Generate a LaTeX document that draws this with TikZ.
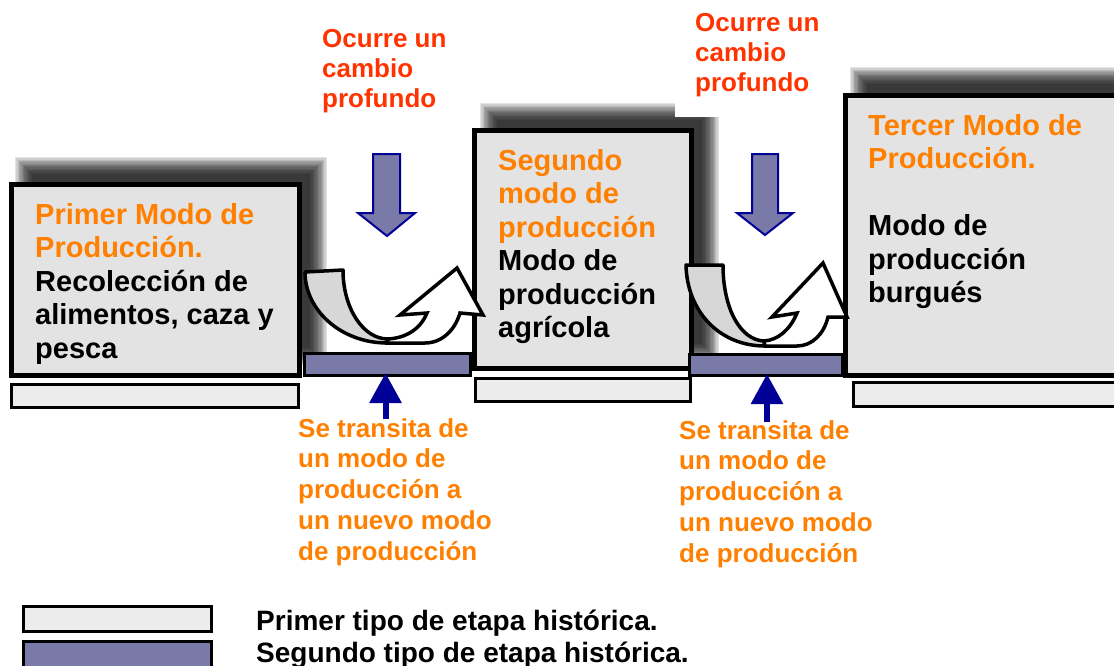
\documentclass[tikz,border=0pt]{standalone}
\usepackage{fontspec}
\setmainfont{Liberation Sans}
\usetikzlibrary{arrows.meta}
\definecolor{boxgray}{RGB}{227,227,227}
\definecolor{bargray}{RGB}{236,236,236}
\definecolor{purp}{RGB}{122,122,168}
\definecolor{navyb}{RGB}{0,0,150}
\definecolor{orng}{RGB}{255,128,0}
\definecolor{redo}{RGB}{255,51,0}
\definecolor{ribbon}{RGB}{215,215,215}
\newcommand{\myblurshadow}[4]{%
  \foreach \i in {0,...,13}{%
    \fill[black,opacity=0.1] ({#1-9+1.3*\i},{#2-9+1.3*\i}) rectangle ({#3+9-1.3*\i},{#4+9-1.3*\i});%
  }}
\tikzset{
  modebox/.style={draw=black, line width=5pt, fill=boxgray, inner sep=0pt, outer sep=0pt, anchor=north west},
  stagebar/.style={draw=black, line width=3pt, fill=bargray, inner sep=0pt, outer sep=0pt, anchor=north west},
  transbar/.style={draw=black, line width=3pt, fill=purp, inner sep=0pt, outer sep=0pt, anchor=north west},
  boxtxt/.style={inner sep=0pt, anchor=north west, align=left, font=\fontsize{29}{33.5}\selectfont\bfseries},
  redtxt/.style={inner sep=0pt, anchor=north west, align=left, text=redo, font=\fontsize{26}{30}\selectfont\bfseries},
  orangetxt/.style={inner sep=0pt, anchor=north west, align=left, text=orng, font=\fontsize{26}{30.8}\selectfont\bfseries},
  legtxt/.style={inner sep=0pt, anchor=north west, align=left, font=\fontsize{28}{32}\selectfont\bfseries},
  blockarrow/.style={draw=navyb, line width=2pt, fill=purp, line join=miter},
  upconn/.style={draw=navyb, line width=6pt, -{Triangle[width=31pt,length=30pt]}},
  ribbonback/.style={draw=black, line width=3.5pt, fill=ribbon, line join=round},
  ribbonfront/.style={draw=black, line width=3.5pt, fill=white, line join=miter},
}
\begin{document}
\begin{tikzpicture}[x=1pt,y=-1pt]
\useasboundingbox (0,0) rectangle (1114,665);
\clip (0,0) rectangle (1114,665);
% shadows
\myblurshadow{24}{166}{318}{356}
\myblurshadow{489}{112}{710}{352}
\myblurshadow{859}{76}{1150}{360}
% white patch behind second top label
\fill[white] (675,0) rectangle (850,117);
% boxes
\node[modebox, minimum width=288pt, minimum height=191pt] (b1) at (11.5,184.5) {};
\node[modebox, minimum width=217pt, minimum height=238pt] (b2) at (474.5,130.5) {};
\node[modebox, minimum width=300pt, minimum height=280pt] (b3) at (845.5,95.5) {};
% stage bars
\node[stagebar, minimum width=287pt, minimum height=23pt] (s1) at (11.5,384.5) {};
\node[stagebar, minimum width=215pt, minimum height=23pt] (s2) at (475.5,378.5) {};
\node[stagebar, minimum width=290pt, minimum height=24pt] (s3) at (853.5,382.5) {};
% transition bars
\node[transbar, minimum width=166pt, minimum height=22pt] (p1) at (304.5,353.5) {};
\node[transbar, minimum width=153pt, minimum height=21pt] (p2) at (689.5,354.5) {};
% redraw box 2 and 3 left edges over transition bars
\draw[line width=5pt] (b2.north west) -- (b2.south west);
\draw[line width=5pt] (b3.north west) -- (b3.south west);
% box texts
\node[boxtxt] (t1) at (35,203) {\textcolor{orng}{Primer Modo de}\\\textcolor{orng}{Producción.}\\Recolección de\\alimentos, caza y\\pesca};
\node[boxtxt] (t2) at (498,149) {\textcolor{orng}{Segundo}\\\textcolor{orng}{modo de}\\\textcolor{orng}{producción}\\Modo de\\producción\\agrícola};
\node[boxtxt] (t3) at (868,114) {\textcolor{orng}{Tercer Modo de}\\\textcolor{orng}{Producción.}\\[33.5pt]Modo de\\producción\\burgués};
% top labels
\node[redtxt] (c1) at (322,29) {Ocurre un\\cambio\\profundo};
\node[redtxt] (c2) at (695,13) {Ocurre un\\cambio\\profundo};
% down block arrows
\draw[blockarrow] (373,154) -- (400,154) -- (400,213) -- (415,213) -- (387,236) -- (358,213) -- (373,213) -- cycle;
\draw[blockarrow] (752,154) -- (778,154) -- (778,213) -- (793,213) -- (765,235) -- (737,213) -- (752,213) -- cycle;
% U-turn 1
\draw[ribbonback] (305,272) -- (343,270) .. controls (343,308) and (363,339) .. (388,339) -- (387,343) .. controls (342,343) and (305,311) .. (305,272) -- cycle;
\draw[ribbonfront] (387,343) -- (425,343) .. controls (442,343) and (455,330) .. (460,313) -- (483,315) -- (457,268) -- (400,315) -- (427,313) .. controls (420,330) and (405,338) .. (388,339) -- cycle;
% U-turn 2
\draw[ribbonback] (686,265) -- (723,265) .. controls (723,308) and (740,340) .. (764,341) -- (765,346) .. controls (720,346) and (687,312) .. (686,265) -- cycle;
\draw[ribbonfront] (765,346) -- (797,346) .. controls (812,346) and (824,334) .. (828,317) -- (847,317) -- (823,263) -- (772,317) -- (797,313) .. controls (790,330) and (778,340) .. (764,341) -- cycle;
% bottom labels and up arrows
\node[orangetxt] (o1) at (298,418) {Se transita de\\un modo de\\producción a\\un nuevo modo\\de producción};
\node[orangetxt] (o2) at (679,420) {Se transita de\\un modo de\\producción a\\un nuevo modo\\de producción};
\coordinate (u1) at (385.5,419);
\coordinate (u2) at (767,422);
\draw[upconn] (u1) -- (u1 |- 0,373);
\draw[upconn] (u2) -- (u2 |- 0,374);
% legend
\node[stagebar, minimum width=188pt, minimum height=25pt] (l1) at (23.5,606.5) {};
\node[transbar, minimum width=188pt, minimum height=28pt] (l2) at (23.5,641.5) {};
\node[legtxt] (lt) at (256,609.5) {Primer tipo de etapa histórica.\\Segundo tipo de etapa histórica.};
\end{tikzpicture}
\end{document}
